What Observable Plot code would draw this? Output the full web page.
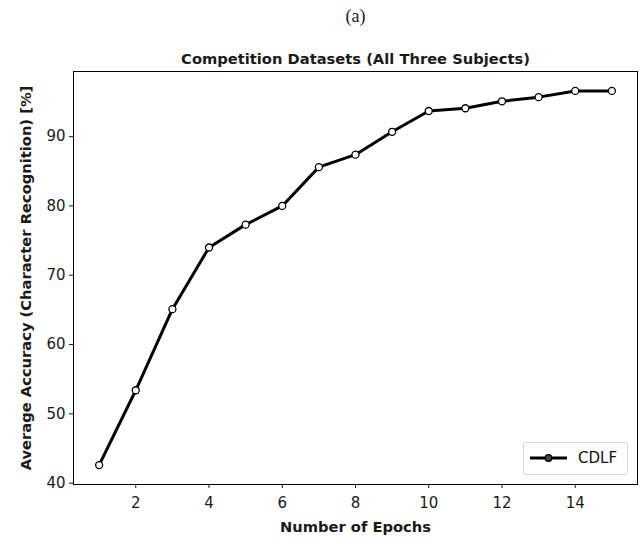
<!DOCTYPE html>
<html>
<head>
<meta charset="utf-8">
<script src="https://cdn.jsdelivr.net/npm/d3@7"></script>
<script src="https://cdn.jsdelivr.net/npm/@observablehq/plot@0.6"></script>
<style>
  html, body { margin: 0; padding: 0; background: white; }
  #wrap { position: relative; width: 643px; height: 542px; }
  #legend {
    position: absolute; left: 523px; top: 442px; width: 105px; height: 33px;
    border: 1px solid #d6d6d6; border-radius: 3px; background: rgba(255,255,255,0.8);
    font-family: "DejaVu Sans", sans-serif; font-size: 15px; color: #111;
    box-sizing: border-box;
  }
  #legend svg { position: absolute; left: 5px; top: 7px; }
  #legend span { position: absolute; left: 54px; top: 6px; line-height: 18px; }
</style>
</head>
<body>
<div id="wrap"></div>
<script>
const epochs = [1, 2, 3, 4, 5, 6, 7, 8, 9, 10, 11, 12, 13, 14, 15];
const accuracy = [42.6, 53.4, 65.1, 74.0, 77.3, 80.0, 85.6, 87.4, 90.7, 93.7, 94.1, 95.1, 95.7, 96.6, 96.6];
const xTicks = [2, 4, 6, 8, 10, 12, 14];
const yTicks = [40, 50, 60, 70, 80, 90];
const seriesName = "CDLF";
const panelLabel = "(a)";
const title = "Competition Datasets (All Three Subjects)";
const xLabel = "Number of Epochs";
const yLabel = "Average Accuracy (Character Recognition) [%]";

const data = epochs.map((e, i) => ({epoch: e, acc: accuracy[i]}));

const chart = Plot.plot({
  width: 643,
  height: 542,
  marginTop: 71,
  marginLeft: 73,
  marginRight: 6,
  marginBottom: 58,
  style: {fontFamily: "DejaVu Sans", fontSize: "15px", color: "#1a1a1a", background: "white"},
  x: {domain: [0.3, 15.7], label: null},
  y: {domain: [39.8, 99.4], label: null},
  marks: [
    Plot.axisX({ticks: xTicks, tickSize: 4, tickPadding: 9, fontSize: 15, label: null}),
    Plot.axisY({ticks: yTicks, tickSize: 4, tickPadding: 4, fontSize: 15, label: null}),
    Plot.frame({stroke: "black", strokeWidth: 1}),
    Plot.line(data, {x: "epoch", y: "acc", stroke: "black", strokeWidth: 3}),
    Plot.dot(data, {x: "epoch", y: "acc", r: 3.5, fill: "white", stroke: "black", strokeWidth: 1.3}),
    Plot.text([title], {frameAnchor: "top", dy: -18, fontWeight: "bold", fontSize: 14.7}),
    Plot.text([panelLabel], {frameAnchor: "top", dy: -62, fontFamily: "Liberation Serif", fontSize: 18}),
    Plot.text([xLabel], {frameAnchor: "bottom", dy: 47, fontWeight: "bold", fontSize: 14.7}),
    Plot.text([yLabel], {frameAnchor: "left", textAnchor: "middle", dx: -47, rotate: -90, fontWeight: "bold", fontSize: 14.7})
  ]
});

const wrap = document.getElementById("wrap");
wrap.appendChild(chart);

const legend = document.createElement("div");
legend.id = "legend";
legend.innerHTML = `<svg width="40" height="16"><line x1="1" y1="8" x2="38" y2="8" stroke="black" stroke-width="3"/><circle cx="19.5" cy="8" r="3.3" fill="#444" stroke="black" stroke-width="1.3"/></svg><span></span>`;
legend.querySelector("span").textContent = seriesName;
wrap.appendChild(legend);
</script>
</body>
</html>
